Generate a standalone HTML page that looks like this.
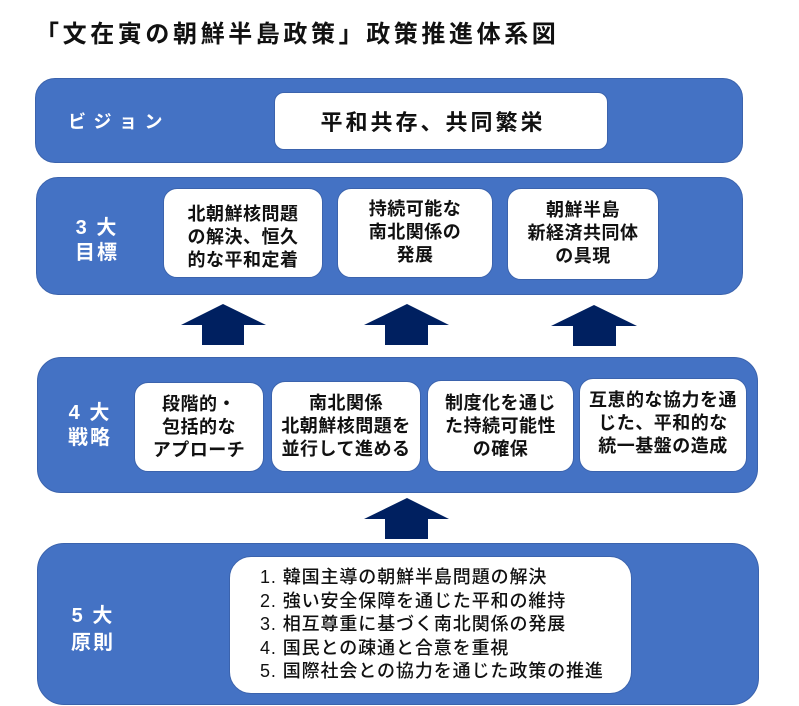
<!DOCTYPE html>
<html><head><meta charset="utf-8">
<style>
html,body{margin:0;padding:0;background:#fff;}
body{width:799px;height:706px;position:relative;overflow:hidden;font-family:"Liberation Sans","Noto Sans CJK JP",sans-serif;}
.t{position:absolute;left:35px;top:20px;font-size:24px;font-weight:700;letter-spacing:3.6px;white-space:nowrap;color:#111;line-height:30px;}
.ob{position:absolute;background:#4472C4;border:1px solid #3b63ad;box-sizing:border-box;}
.wb{position:absolute;background:#fff;border:1px solid #3b63ad;box-sizing:border-box;border-radius:14px;display:flex;align-items:center;justify-content:center;text-align:center;font-size:18px;font-weight:700;letter-spacing:0.5px;line-height:23px;color:#111;}
.lb{position:absolute;color:#fff;font-weight:700;text-align:center;white-space:nowrap;}
</style></head><body>
<div class="t">「文在寅の朝鮮半島政策」政策推進体系図</div>

<!-- Vision -->
<div class="ob" style="left:35px;top:78px;width:708px;height:85px;border-radius:20px;"></div>
<div class="lb" style="left:68px;top:110px;font-size:18px;letter-spacing:7.5px;line-height:24px;">ビジョン</div>
<div class="wb" style="left:274px;top:92px;width:334px;height:58px;border-radius:10px;font-size:22px;letter-spacing:3px;padding-top:2px;padding-right:16px;">平和共存、共同繁栄</div>

<!-- 3 goals -->
<div class="ob" style="left:36px;top:177px;width:707px;height:118px;border-radius:22px;"></div>
<div class="lb" style="left:62px;top:216px;width:70px;font-size:20px;letter-spacing:2px;line-height:25px;">3 大<br>目標</div>
<div class="wb" style="left:163px;top:188px;width:160px;height:90px;padding-top:8px;">北朝鮮核問題<br>の解決、恒久<br>的な平和定着</div>
<div class="wb" style="left:337px;top:188px;width:156px;height:90px;padding-bottom:2px;">持続可能な<br>南北関係の<br>発展</div>
<div class="wb" style="left:507px;top:188px;width:152px;height:92px;padding-bottom:2px;">朝鮮半島<br>新経済共同体<br>の具現</div>

<!-- arrows -->
<svg style="position:absolute;left:0;top:0;" width="799" height="706">
<polygon points="223,304 266,325 244,325 244,345 202,345 202,325 181,325" fill="#002060"/>
<polygon points="407,304 449,325 428,325 428,345 385,345 385,325 364,325" fill="#002060"/>
<polygon points="594,305 637,326 616,326 616,346 573,346 573,326 551,326" fill="#002060"/>
<polygon points="407,498 449,519 428,519 428,539 385,539 385,519 364,519" fill="#002060"/>
</svg>

<!-- 4 strategies -->
<div class="ob" style="left:37px;top:357px;width:721px;height:136px;border-radius:24px;"></div>
<div class="lb" style="left:55px;top:401px;width:70px;font-size:20px;letter-spacing:2px;line-height:25px;">4 大<br>戦略</div>
<div class="wb" style="left:134px;top:382px;width:130px;height:90px;">段階的・<br>包括的な<br>アプローチ</div>
<div class="wb" style="left:271px;top:381px;width:150px;height:91px;">南北関係<br>北朝鮮核問題を<br>並行して進める</div>
<div class="wb" style="left:427px;top:380px;width:147px;height:92px;">制度化を通じ<br>た持続可能性<br>の確保</div>
<div class="wb" style="left:579px;top:378px;width:168px;height:94px;padding-bottom:4px;">互恵的な協力を通<br>じた、平和的な<br>統一基盤の造成</div>

<!-- 5 principles -->
<div class="ob" style="left:37px;top:543px;width:722px;height:162px;border-radius:27px;"></div>
<div class="lb" style="left:58px;top:603px;width:70px;font-size:20px;letter-spacing:2px;line-height:27px;">5 大<br>原則</div>
<div class="wb" style="left:229px;top:556px;width:403px;height:138px;border-radius:22px;justify-content:flex-start;text-align:left;padding-left:30px;font-weight:500;font-size:18px;letter-spacing:0.9px;line-height:23.5px;">
<div>1. 韓国主導の朝鮮半島問題の解決<br>2. 強い安全保障を通じた平和の維持<br>3. 相互尊重に基づく南北関係の発展<br>4. 国民との疎通と合意を重視<br>5. 国際社会との協力を通じた政策の推進</div>
</div>
</body></html>
